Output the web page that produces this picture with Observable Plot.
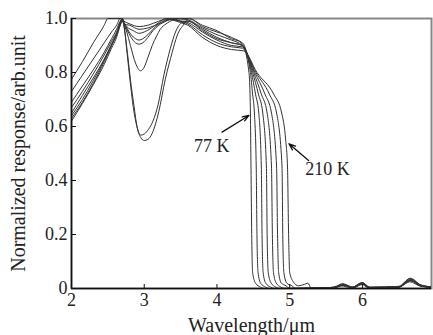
<!DOCTYPE html>
<html><head><meta charset="utf-8">
<script src="https://cdn.jsdelivr.net/npm/d3@7"></script>
<script src="https://cdn.jsdelivr.net/npm/@observablehq/plot@0.6"></script>
<style>body{margin:0;background:#fff} #chart svg{display:block}</style>
</head><body><div id="chart"></div>
<script>
// Normalized response curves, [wavelength (um), response]
const c1 = [[2.0,0.63],[2.15,0.69],[2.3,0.76],[2.45,0.84],[2.55,0.9],[2.62,0.94],[2.67,0.985],[2.7,1.0],[2.72,0.975],[2.77,0.87],[2.81,0.775],[2.86,0.675],[2.9,0.6],[2.95,0.56],[3.0,0.548],[3.05,0.552],[3.11,0.575],[3.2,0.655],[3.29,0.775],[3.385,0.875],[3.45,0.935],[3.55,0.98],[3.62,1.0],[3.8,0.97],[4.0,0.95],[4.2,0.93],[4.35,0.905],[4.44,0.8],[4.455,0.72],[4.46,0.65],[4.468,0.45],[4.478,0.2],[4.49,0.06],[4.53,0.02],[4.6,0.005],[4.65,0],[5.5,0.002],[5.7,0.01],[5.85,0.003],[6.0,0.015],[6.1,0.003],[6.5,0.005],[6.65,0.025],[6.8,0.008],[6.95,0.004]];
const c2 = [[2.0,0.62],[2.15,0.685],[2.3,0.755],[2.45,0.83],[2.55,0.89],[2.62,0.93],[2.67,0.975],[2.7,0.995],[2.72,0.975],[2.765,0.87],[2.805,0.77],[2.85,0.67],[2.9,0.6],[2.95,0.568],[3.0,0.572],[3.06,0.59],[3.12,0.62],[3.19,0.68],[3.27,0.79],[3.36,0.89],[3.43,0.95],[3.52,0.985],[3.6,0.99],[3.8,0.96],[4.0,0.93],[4.2,0.91],[4.35,0.9],[4.46,0.8],[4.49,0.72],[4.515,0.65],[4.54,0.45],[4.55,0.2],[4.565,0.06],[4.6,0.02],[4.67,0.005],[4.72,0],[5.6,0.003],[5.72,0.015],[5.85,0.004],[6.0,0.02],[6.08,0.004],[6.5,0.006],[6.66,0.03],[6.8,0.01],[6.95,0.005]];
const c3 = [[2.0,0.69],[2.15,0.75],[2.3,0.81],[2.45,0.875],[2.55,0.925],[2.62,0.96],[2.67,0.99],[2.7,1.0],[2.72,0.98],[2.76,0.95],[2.81,0.9],[2.88,0.835],[2.95,0.806],[3.0,0.82],[3.05,0.855],[3.11,0.9],[3.17,0.935],[3.22,0.96],[3.3,0.98],[3.4,0.995],[3.5,1.0],[3.6,1.0],[3.8,0.975],[4.0,0.955],[4.2,0.925],[4.35,0.91],[4.475,0.8],[4.53,0.72],[4.575,0.65],[4.61,0.45],[4.62,0.2],[4.635,0.06],[4.67,0.02],[4.74,0.005],[4.79,0],[5.6,0.002],[5.75,0.012],[5.88,0.003],[5.98,0.018],[6.08,0.003],[6.5,0.005],[6.67,0.028],[6.8,0.01],[6.95,0.004]];
const c4 = [[2.0,0.73],[2.15,0.79],[2.3,0.85],[2.45,0.91],[2.55,0.95],[2.62,0.975],[2.67,1.0],[2.7,0.995],[2.72,0.985],[2.76,0.96],[2.82,0.93],[2.88,0.91],[2.93,0.905],[2.98,0.91],[3.05,0.93],[3.12,0.955],[3.2,0.975],[3.3,0.99],[3.4,1.0],[3.5,0.998],[3.6,0.995],[3.8,0.965],[4.0,0.94],[4.2,0.92],[4.35,0.9],[4.49,0.8],[4.57,0.72],[4.63,0.65],[4.68,0.45],[4.69,0.2],[4.705,0.06],[4.745,0.02],[4.81,0.005],[4.86,0],[5.6,0.003],[5.73,0.014],[5.86,0.004],[6.0,0.02],[6.1,0.004],[6.5,0.006],[6.65,0.032],[6.8,0.012],[6.95,0.005]];
const c5 = [[2.0,0.67],[2.15,0.73],[2.3,0.795],[2.45,0.865],[2.55,0.915],[2.62,0.95],[2.67,0.985],[2.7,1.0],[2.72,0.985],[2.76,0.965],[2.82,0.94],[2.88,0.925],[2.93,0.92],[2.98,0.925],[3.05,0.94],[3.12,0.96],[3.2,0.98],[3.3,0.995],[3.4,1.0],[3.5,0.99],[3.6,0.99],[3.8,0.955],[4.0,0.925],[4.2,0.91],[4.35,0.9],[4.505,0.8],[4.61,0.72],[4.69,0.65],[4.75,0.45],[4.762,0.2],[4.777,0.06],[4.815,0.02],[4.88,0.005],[4.93,0],[5.6,0.002],[5.74,0.012],[5.88,0.003],[6.0,0.016],[6.1,0.003],[6.5,0.005],[6.66,0.03],[6.8,0.01],[6.95,0.005]];
const c6 = [[2.0,0.65],[2.15,0.715],[2.3,0.78],[2.45,0.85],[2.55,0.905],[2.62,0.945],[2.67,0.98],[2.7,0.995],[2.72,0.985],[2.76,0.97],[2.85,0.955],[2.93,0.945],[3.0,0.95],[3.1,0.965],[3.2,0.985],[3.3,1.0],[3.4,0.995],[3.5,0.99],[3.6,0.985],[3.8,0.95],[4.0,0.92],[4.2,0.9],[4.35,0.895],[4.52,0.8],[4.66,0.72],[4.75,0.65],[4.82,0.45],[4.833,0.2],[4.848,0.06],[4.885,0.02],[4.95,0.01],[5.0,0],[5.6,0.003],[5.72,0.016],[5.85,0.004],[6.0,0.022],[6.1,0.004],[6.5,0.006],[6.67,0.034],[6.8,0.012],[6.95,0.006]];
const c7 = [[2.0,0.775],[2.15,0.84],[2.3,0.91],[2.45,0.975],[2.5,1.0],[2.6,1.0],[2.67,1.0],[2.72,0.99],[2.8,0.98],[2.93,0.97],[3.05,0.975],[3.2,0.99],[3.35,1.0],[3.5,0.99],[3.6,0.98],[3.8,0.94],[4.0,0.91],[4.2,0.895],[4.35,0.89],[4.535,0.8],[4.72,0.72],[4.82,0.65],[4.895,0.45],[4.905,0.2],[4.92,0.06],[4.96,0.02],[5.03,0.01],[5.08,0],[5.6,0.003],[5.75,0.015],[5.88,0.004],[6.0,0.02],[6.1,0.004],[6.5,0.007],[6.65,0.036],[6.8,0.013],[6.95,0.006]];
const c8 = [[2.0,0.64],[2.15,0.7],[2.3,0.77],[2.45,0.845],[2.55,0.9],[2.62,0.94],[2.67,0.975],[2.7,0.99],[2.72,0.98],[2.8,0.975],[2.93,0.96],[3.05,0.965],[3.2,0.98],[3.35,0.995],[3.5,0.985],[3.6,0.975],[3.8,0.93],[4.0,0.9],[4.2,0.885],[4.37,0.88],[4.55,0.8],[4.78,0.72],[4.89,0.65],[4.945,0.55],[4.97,0.45],[4.985,0.2],[5.0,0.06],[5.05,0.025],[5.12,0.01],[5.2,0.015],[5.25,0.02],[5.3,0],[5.6,0.003],[5.73,0.018],[5.86,0.004],[6.0,0.022],[6.1,0.005],[6.5,0.008],[6.66,0.038],[6.8,0.014],[6.95,0.006]];

const xTicks = [2, 3, 4, 5, 6];
const xTickLabels = ["2", "3", "4", "5", "6"];
const yTicks = [0, 0.2, 0.4, 0.6, 0.8, 1.0];
const yTickLabels = ["0", "0.2", "0.4", "0.6", "0.8", "1.0"];
const xLabel = "Wavelength/\u03bcm";
const yLabel = "Normalized response/arb.unit";

const annoText = ["77 K", "210 K"];
const annoX = [3.93, 5.52];
const annoY = [0.526, 0.441];
const arrowX1 = [4.07, 5.26];
const arrowY1 = [0.579, 0.474];
const arrowX2 = [4.44, 4.99];
const arrowY2 = [0.641, 0.536];

const curves = [c1, c2, c3, c4, c5, c6, c7, c8];
const rows = curves.flatMap((c, i) => c.map(([wl, r]) => ({wl, r, curve: i})));
const annos = annoText.map((t, i) => ({t, x: annoX[i], y: annoY[i]}));
const arrows = arrowX1.map((x1, i) => ({x1, y1: arrowY1[i], x2: arrowX2[i], y2: arrowY2[i]}));

const serif = "'Liberation Serif','Times New Roman',serif";
const chart = Plot.plot({
  width: 433, height: 335,
  marginLeft: 71, marginRight: 2, marginTop: 18, marginBottom: 47,
  x: {domain: [2, 6.95]},
  y: {domain: [0, 1]},
  style: {fontFamily: serif, fontSize: "18px", color: "#222", background: "#fff", overflow: "visible"},
  marks: [
    Plot.frame({stroke: "#888", strokeWidth: 2}),
    Plot.line(rows, {x: "wl", y: "r", z: "curve", stroke: "#333", strokeWidth: 1, curve: "monotone-x", clip: true}),
    Plot.ruleY([0], {stroke: "#111", strokeWidth: 1.5}),
    Plot.ruleX([2], {stroke: "#111", strokeWidth: 1.5}),
    Plot.axisX({ticks: xTicks, tickSize: -4, tickPadding: 9, tickFormat: d => xTickLabels[xTicks.indexOf(d)], label: null, fontSize: 18, stroke: "#111"}),
    Plot.axisY({ticks: yTicks, tickSize: -5, tickPadding: 9, tickFormat: d => yTickLabels[yTicks.indexOf(d)], label: null, fontSize: 18, stroke: "#111"}),
    Plot.axisX({ticks: [], label: xLabel, labelAnchor: "center", labelArrow: "none", labelOffset: 43, fontSize: 20}),
    Plot.axisY({ticks: [], label: yLabel, labelAnchor: "center", labelArrow: "none", labelOffset: 61, fontSize: 20}),
    Plot.arrow(arrows, {x1: "x1", y1: "y1", x2: "x2", y2: "y2", stroke: "#111", strokeWidth: 1.3, headLength: 8, headAngle: 40}),
    Plot.text(annos, {x: "x", y: "y", text: "t", fontSize: 18})
  ]
});
document.getElementById("chart").append(chart);
</script>
</body></html>
